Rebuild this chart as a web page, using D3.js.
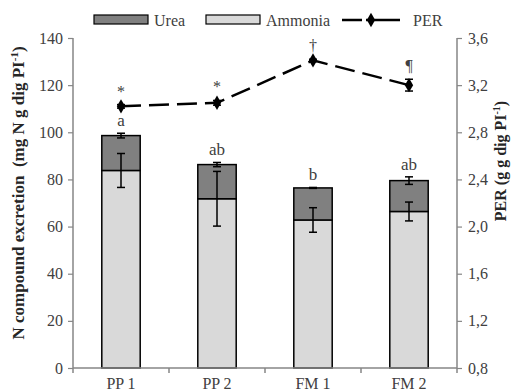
<!DOCTYPE html>
<html>
<head>
<meta charset="utf-8">
<script src="https://cdn.jsdelivr.net/npm/d3@7"></script>
<style>
  body { margin: 0; background: #fff; }
  svg text { font-family: "Liberation Serif", Tinos, "Times New Roman", "DejaVu Serif", serif; }
</style>
</head>
<body>
<script>
// data
var categories = ['PP 1', 'PP 2', 'FM 1', 'FM 2'];
var ammonia = [83.8, 71.8, 62.8, 66.4];
var ammoniaErr = [7.2, 11.6, 5.2, 4.0];
var urea = [14.8, 14.5, 13.6, 13.1];
var ureaErr = [1.0, 0.9, 0.2, 1.6];
var per = [3.02, 3.05, 3.41, 3.20];
var perErr = [0.015, 0.02, 0.01, 0.05];
var barLetters = ['a', 'ab', 'b', 'ab'];
var perMarks = ['*', '*', '\u2020', '\u00b6'];
var leftTicks = [0, 20, 40, 60, 80, 100, 120, 140];
var rightTicks = [0.8, 1.2, 1.6, 2.0, 2.4, 2.8, 3.2, 3.6];

var W = 515, H = 392;
var margin = { top: 38, right: 58, bottom: 24, left: 73 },
    width = W - margin.left - margin.right,
    height = H - margin.top - margin.bottom;

var serif = '"Liberation Serif", Tinos, "Times New Roman", "DejaVu Serif", serif';

var svg = d3.select('body').append('svg')
    .attr('width', W)
    .attr('height', H)
    .attr('font-family', serif);

var g = svg.append('g')
    .attr('transform', 'translate(' + margin.left + ',' + margin.top + ')');

var x = d3.scaleBand().domain(categories).range([0, width]).paddingInner(0.6).paddingOuter(0.3);
var y = d3.scaleLinear().domain([0, 140]).range([height, 0]);
var y2 = d3.scaleLinear().domain([0.8, 3.6]).range([height, 0]);

var axisColor = '#868686';
var textColor = '#404040';

// bars - ammonia bottom, urea on top
var grp = g.selectAll('.bar').data(categories).enter().append('g').attr('class', 'bar');

grp.append('rect')
    .attr('x', function (d) { return x(d); })
    .attr('y', function (d, i) { return y(ammonia[i]); })
    .attr('width', x.bandwidth())
    .attr('height', function (d, i) { return y(0) - y(ammonia[i]); })
    .attr('fill', '#d9d9d9')
    .attr('stroke', '#000')
    .attr('stroke-width', 1.5);

grp.append('rect')
    .attr('x', function (d) { return x(d); })
    .attr('y', function (d, i) { return y(ammonia[i] + urea[i]); })
    .attr('width', x.bandwidth())
    .attr('height', function (d, i) { return y(ammonia[i]) - y(ammonia[i] + urea[i]); })
    .attr('fill', '#808080')
    .attr('stroke', '#000')
    .attr('stroke-width', 1.5);

// error bars
function errBar(cx, y0, y1, cap) {
    g.append('line').attr('x1', cx).attr('x2', cx).attr('y1', y0).attr('y2', y1)
        .attr('stroke', '#000').attr('stroke-width', 1.5);
    g.append('line').attr('x1', cx - cap).attr('x2', cx + cap).attr('y1', y0).attr('y2', y0)
        .attr('stroke', '#000').attr('stroke-width', 1.5);
    g.append('line').attr('x1', cx - cap).attr('x2', cx + cap).attr('y1', y1).attr('y2', y1)
        .attr('stroke', '#000').attr('stroke-width', 1.5);
}

categories.forEach(function (c, i) {
    var cx = x(c) + x.bandwidth() / 2;
    errBar(cx, y(ammonia[i] - ammoniaErr[i]), y(ammonia[i] + ammoniaErr[i]), 4);
    var tot = ammonia[i] + urea[i];
    errBar(cx, y(tot - ureaErr[i]), y(tot + ureaErr[i]), 4);
});

// letters above bars
g.selectAll('.letter').data(categories).enter().append('text')
    .attr('x', function (d) { return x(d) + x.bandwidth() / 2; })
    .attr('y', function (d, i) { return y(ammonia[i] + urea[i] + ureaErr[i]) - 7; })
    .attr('text-anchor', 'middle')
    .attr('font-size', 17)
    .attr('fill', textColor)
    .text(function (d, i) { return barLetters[i]; });

// axes
var leftAxis = g.append('g')
    .call(d3.axisLeft(y).tickValues(leftTicks).tickSize(5).tickPadding(5));
var rightAxis = g.append('g')
    .attr('transform', 'translate(' + width + ',0)')
    .call(d3.axisRight(y2).tickValues(rightTicks).tickSize(5).tickPadding(6)
        .tickFormat(function (d) { return d3.format('.1f')(d).replace('.', ','); }));
var bottomAxis = g.append('g')
    .attr('transform', 'translate(0,' + height + ')')
    .call(d3.axisBottom(x).tickSize(0).tickPadding(10));

// category boundary ticks
var bounds = d3.range(categories.length + 1).map(function (i) { return i * width / categories.length; });
g.selectAll('.btick').data(bounds).enter().append('line')
    .attr('x1', function (d) { return d; }).attr('x2', function (d) { return d; })
    .attr('y1', height).attr('y2', height + 5)
    .attr('stroke', axisColor).attr('stroke-width', 1.5);

[leftAxis, rightAxis, bottomAxis].forEach(function (a) {
    a.attr('font-family', serif).attr('font-size', 16);
    a.selectAll('path').attr('stroke', axisColor).attr('stroke-width', 1.5);
    a.selectAll('line').attr('stroke', axisColor).attr('stroke-width', 1.2);
    a.selectAll('text').attr('fill', textColor);
});
leftAxis.select('path').attr('d', 'M0,' + height + 'V0');
rightAxis.select('path').attr('d', 'M0,' + height + 'V0');
bottomAxis.select('path').attr('d', 'M0,0H' + width);

// PER line
var line = d3.line()
    .x(function (d, i) { return x(categories[i]) + x.bandwidth() / 2; })
    .y(function (d) { return y2(d); });

g.append('path')
    .datum(per)
    .attr('d', line)
    .attr('fill', 'none')
    .attr('stroke', '#000')
    .attr('stroke-width', 2.5)
    .attr('stroke-dasharray', '20,8');

per.forEach(function (v, i) {
    var cx = x(categories[i]) + x.bandwidth() / 2;
    errBar(cx, y2(v - perErr[i]), y2(v + perErr[i]), 4);
});

var diamond = d3.symbol().type(d3.symbolDiamond).size(60);
g.selectAll('.pt').data(per).enter().append('path')
    .attr('d', diamond)
    .attr('transform', function (d, i) {
        return 'translate(' + (x(categories[i]) + x.bandwidth() / 2) + ',' + y2(d) + ')';
    })
    .attr('fill', '#000');

g.selectAll('.mark').data(per).enter().append('text')
    .attr('x', function (d, i) { return x(categories[i]) + x.bandwidth() / 2; })
    .attr('y', function (d, i) { return y2(d + perErr[i]) - 8; })
    .attr('text-anchor', 'middle')
    .attr('font-size', 16)
    .attr('fill', textColor)
    .text(function (d, i) { return perMarks[i]; });

// axis titles
svg.append('text')
    .attr('transform', 'translate(24,193) rotate(-90)')
    .attr('text-anchor', 'middle')
    .attr('font-size', 17)
    .attr('font-weight', 'bold')
    .attr('fill', '#262626')
    .html('N compound excretion&#160;&#160;(mg N g dig PI<tspan dy="-6" font-size="11">-1</tspan><tspan dy="6">)</tspan>');

svg.append('text')
    .attr('transform', 'translate(506,161) rotate(-90)')
    .attr('text-anchor', 'middle')
    .attr('font-size', 16)
    .attr('font-weight', 'bold')
    .attr('fill', '#262626')
    .html('PER (g g dig PI<tspan dy="-6" font-size="10">-1</tspan><tspan dy="6">)</tspan>');

// legend
var leg = svg.append('g').attr('font-size', 16).attr('fill', textColor);
leg.append('rect').attr('x', 94).attr('y', 15).attr('width', 54).attr('height', 9)
    .attr('fill', '#808080').attr('stroke', '#000').attr('stroke-width', 1.2);
leg.append('text').attr('x', 154).attr('y', 26).text('Urea');
leg.append('rect').attr('x', 206).attr('y', 15).attr('width', 54).attr('height', 9)
    .attr('fill', '#d9d9d9').attr('stroke', '#000').attr('stroke-width', 1.2);
leg.append('text').attr('x', 266).attr('y', 26).text('Ammonia');
leg.append('line').attr('x1', 342).attr('x2', 400).attr('y1', 20).attr('y2', 20)
    .attr('stroke', '#000').attr('stroke-width', 2.5).attr('stroke-dasharray', '20,4,40');
leg.append('path').attr('d', diamond).attr('transform', 'translate(371,20)').attr('fill', '#000');
leg.append('text').attr('x', 413).attr('y', 26).text('PER');
</script>
</body>
</html>
